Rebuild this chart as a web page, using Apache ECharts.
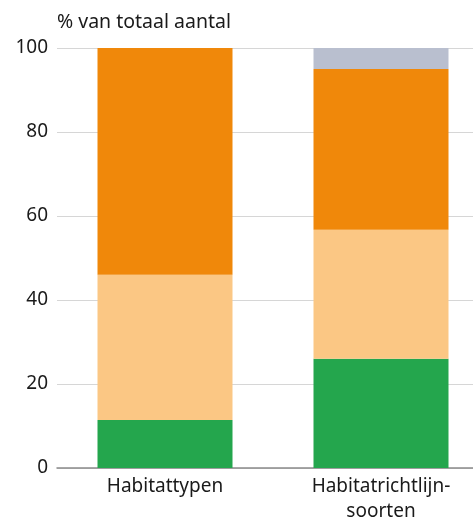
<!DOCTYPE html>
<html>
<head>
<meta charset="utf-8">
<script src="https://cdn.jsdelivr.net/npm/echarts@6/dist/echarts.min.js"></script>
<style>
html,body{margin:0;padding:0;background:#fff;}
#chart{width:473px;height:522px;}
</style>
</head>
<body>
<div id="chart"></div>
<script>
const categories = ['Habitattypen', 'Habitatrichtlijn-\nsoorten'];
const gunstig = [11.4, 26];
const matigOngunstig = [34.6, 30.7];
const zeerOngunstig = [54, 38.3];
const onbekend = [0, 5];
const yTicks = [0, 20, 40, 60, 80, 100];

const colors = ['#24a64d', '#fbc784', '#f0880a', '#b9bfcf'];
const seriesData = [
  ['gunstig', gunstig],
  ['matig ongunstig', matigOngunstig],
  ['zeer ongunstig', zeerOngunstig],
  ['onbekend', onbekend]
];

const chart = echarts.init(document.getElementById('chart'), null, {renderer: 'canvas'});
chart.setOption({
  animation: false,
  textStyle: {fontFamily: 'Noto Sans'},
  grid: {left: 57, top: 48, bottom: 54, width: 432, outerBoundsMode: 'none', containLabel: false},
  xAxis: {
    type: 'category',
    data: categories,
    axisTick: {show: false},
    axisLine: {lineStyle: {color: '#8a8a8a', width: 1.5}},
    axisLabel: {color: '#1a1a1a', fontSize: 19, margin: 6, lineHeight: 25, fontFamily: 'Noto Sans'}
  },
  yAxis: {
    type: 'value',
    min: yTicks[0],
    max: yTicks[yTicks.length - 1],
    interval: 20,
    name: '% van totaal aantal',
    nameLocation: 'end',
    nameGap: 16,
    nameTextStyle: {color: '#1a1a1a', fontSize: 19.5, align: 'left', fontFamily: 'Noto Sans'},
    axisLine: {show: false},
    axisTick: {show: false},
    axisLabel: {color: '#1a1a1a', fontSize: 19, margin: 9, fontFamily: 'Noto Sans'},
    splitLine: {lineStyle: {color: '#d6d6d6', width: 1.2}}
  },
  series: seriesData.map((s, i) => ({
    name: s[0],
    type: 'bar',
    stack: 'total',
    barWidth: 135,
    data: s[1],
    itemStyle: {color: colors[i]}
  }))
});
</script>
</body>
</html>
